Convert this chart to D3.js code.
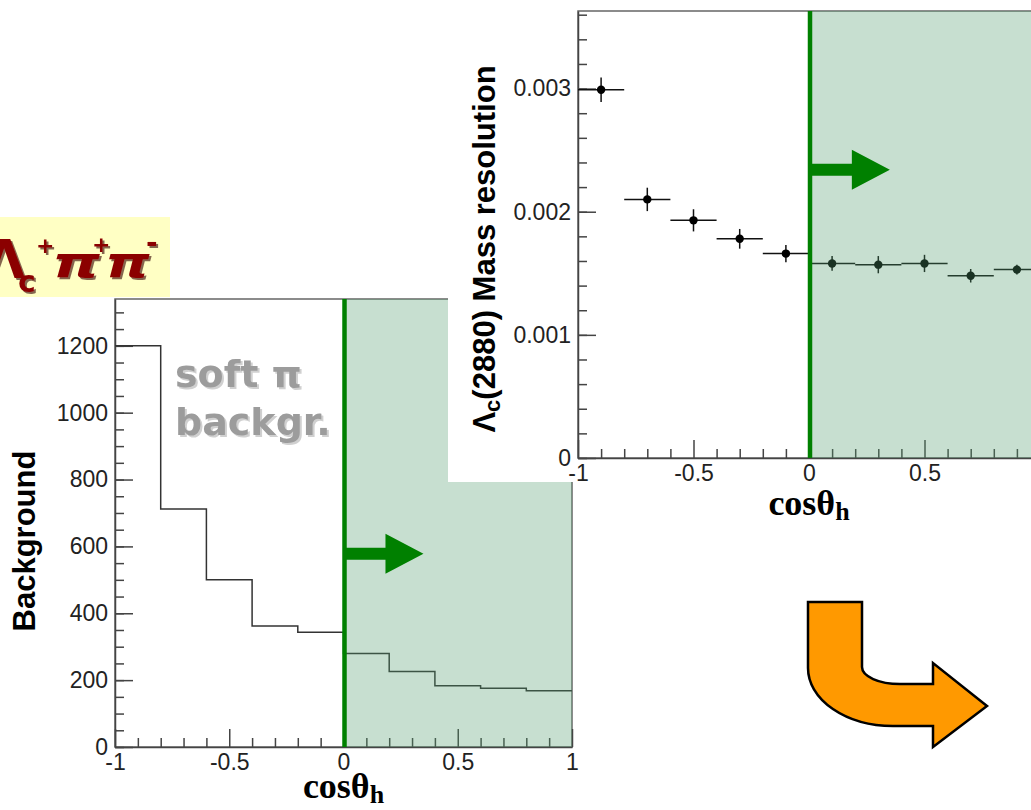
<!DOCTYPE html>
<html>
<head>
<meta charset="utf-8">
<script src="https://cdn.jsdelivr.net/npm/d3@7"></script>
<style>
  body { margin: 0; background: #fff; }
  svg { display: block; }
</style>
</head>
<body>
<div id="chart"></div>
<script>
// Background histogram: 10 bins in cos(theta_h)
const binEdges = [-1, -0.8, -0.6, -0.4, -0.2, 0, 0.2, 0.4, 0.6, 0.8, 1];
const bgCounts = [1200, 712, 500, 362, 343, 280, 226, 183, 176, 168];

// Lambda_c(2880) mass resolution per bin (points with errors)
const resCenters = [-0.9, -0.7, -0.5, -0.3, -0.1, 0.1, 0.3, 0.5, 0.7, 0.9];
const resValues = [0.00299, 0.00210, 0.00193, 0.00178, 0.00166, 0.00158, 0.00157, 0.00158, 0.00148, 0.00153];
const resErrors = [0.0001, 0.000095, 0.00009, 0.00008, 0.00007, 0.00006, 0.00007, 0.00007, 0.000055, 0.00004];
const resHalfWidth = 0.1;

// tick values
const xTicks = [-1, -0.5, 0, 0.5, 1];
const xMinor = [-0.9, -0.8, -0.7, -0.6, -0.4, -0.3, -0.2, -0.1, 0.1, 0.2, 0.3, 0.4, 0.6, 0.7, 0.8, 0.9];
const bgTicks = [0, 200, 400, 600, 800, 1000, 1200];
const bgMinor = d3.range(0, 1350, 50);
const resTicks = [0, 0.001, 0.002, 0.003];
const resMinor = d3.range(0, 19).map(i => i * 0.0002);

// selection cut and arrow annotations (data units)
const cutValue = 0;
const arrowLenX = 0.35;
const bgArrowY = 578;
const resArrowY = 0.00234;

const W = 1031, H = 810;
const sansFont = "'Liberation Sans', Arial, Helvetica, sans-serif";
const serifFont = "'Liberation Serif', 'Times New Roman', serif";
const cutGreen = "#008000";
const shade = "rgba(80,155,110,0.32)";

const svg = d3.select("#chart")
    .append("svg")
    .attr("width", W)
    .attr("height", H);

const defs = svg.append("defs");
defs.append("filter").attr("id", "redShadow")
    .append("feDropShadow")
    .attr("dx", 2).attr("dy", 2).attr("stdDeviation", 0.6)
    .attr("flood-color", "#300").attr("flood-opacity", 0.6);
defs.append("filter").attr("id", "greyShadow")
    .append("feDropShadow")
    .attr("dx", 2).attr("dy", 2).attr("stdDeviation", 0.5)
    .attr("flood-color", "#d0d0d0").attr("flood-opacity", 1);

svg.append("rect").attr("width", W).attr("height", H).attr("fill", "#fff");

// draws frame, major + minor ticks (inside), tick labels
function drawFrame(g, x, y, yMajor, yMinorVals) {
    const x0 = x.range()[0], x1 = x.range()[1];
    const y0 = y.range()[0], y1 = y.range()[1];

    g.append("rect")
        .attr("x", x0).attr("y", y1)
        .attr("width", x1 - x0).attr("height", y0 - y1)
        .attr("fill", "none")
        .attr("stroke", "#666")
        .attr("stroke-width", 1.5);

    // minor ticks
    g.append("g")
        .attr("transform", `translate(${x0},0)`)
        .call(d3.axisLeft(y).tickValues(yMinorVals).tickSizeInner(-9).tickSizeOuter(0).tickFormat(""))
        .call(a => a.select(".domain").remove());
    g.append("g")
        .attr("transform", `translate(0,${y0})`)
        .call(d3.axisBottom(x).tickValues(xMinor).tickSizeInner(-9).tickSizeOuter(0).tickFormat(""))
        .call(a => a.select(".domain").remove());

    // major ticks + labels
    g.append("g")
        .attr("transform", `translate(${x0},0)`)
        .call(d3.axisLeft(y).tickValues(yMajor).tickSizeInner(-18).tickSizeOuter(0).tickPadding(7).tickFormat(d => String(d)))
        .call(a => a.select(".domain").attr("stroke", "#444").attr("stroke-width", 1.5));
    g.append("g")
        .attr("transform", `translate(0,${y0})`)
        .call(d3.axisBottom(x).tickValues(xTicks).tickSizeInner(-18).tickSizeOuter(0).tickPadding(7).tickFormat(d => String(d)))
        .call(a => a.select(".domain").attr("stroke", "#444").attr("stroke-width", 1.5));

    g.selectAll(".tick line").attr("stroke", "#444").attr("stroke-width", 1.5);
    g.selectAll(".tick text")
        .style("font-family", sansFont)
        .style("font-size", "23px")
        .attr("fill", "#222");
}

// cut shading, line and arrow
function drawCut(g, x, y, arrowY) {
    const xc = x(cutValue);
    const x1 = x.range()[1];
    const yTop = y.range()[1], yBot = y.range()[0];
    g.append("rect")
        .attr("x", xc).attr("y", yTop)
        .attr("width", x1 - xc).attr("height", yBot - yTop)
        .attr("fill", shade);
    g.append("line")
        .attr("x1", xc + 1).attr("x2", xc + 1)
        .attr("y1", yTop).attr("y2", yBot)
        .attr("stroke", cutGreen)
        .attr("stroke-width", 4.5);

    const ay = y(arrowY);
    const tip = x(cutValue + arrowLenX);
    const head = 38, hw = 20, sw = 6;
    g.append("path")
        .attr("d", `M${xc},${ay - sw} L${tip - head},${ay - sw} L${tip - head},${ay - hw} L${tip},${ay} L${tip - head},${ay + hw} L${tip - head},${ay + sw} L${xc},${ay + sw} Z`)
        .attr("fill", cutGreen);
}

function xTitle(g, x, baseline) {
    const t = g.append("text")
        .attr("x", x(0))
        .attr("y", baseline)
        .attr("text-anchor", "middle")
        .style("font-family", serifFont)
        .style("font-weight", "bold")
        .style("font-size", "36px")
        .attr("fill", "#000");
    t.append("tspan").text("cosθ");
    t.append("tspan").attr("dy", 5).style("font-size", "26px").text("h");
}

// ---------------- left: background histogram ----------------
const xL = d3.scaleLinear().domain([-1, 1]).range([115, 572]);
const yL = d3.scaleLinear().domain([0, 1340]).range([747, 299]);
const left = svg.append("g");

drawFrame(left, xL, yL, bgTicks, bgMinor);

const histPts = bgCounts.map((v, i) => [binEdges[i], v]);
histPts.push([binEdges[binEdges.length - 1], bgCounts[bgCounts.length - 1]]);
left.append("path")
    .datum(histPts)
    .attr("fill", "none")
    .attr("stroke", "#333")
    .attr("stroke-width", 1.5)
    .attr("d", d3.line().x(d => xL(d[0])).y(d => yL(d[1])).curve(d3.curveStepAfter));

// "soft pi backgr." note
const note = left.append("text")
    .attr("filter", "url(#greyShadow)")
    .style("font-family", "'DejaVu Sans', sans-serif")
    .style("font-weight", "bold")
    .style("font-size", "38px")
    .attr("fill", "#9c9c9c");
note.append("tspan").attr("x", 175).attr("y", 387).text("soft π");
note.append("tspan").attr("x", 175).attr("y", 435).text("backgr.");

drawCut(left, xL, yL, bgArrowY);

left.append("text")
    .attr("transform", "translate(35,541) rotate(-90)")
    .attr("text-anchor", "middle")
    .style("font-family", sansFont)
    .style("font-weight", "bold")
    .style("font-size", "31px")
    .attr("fill", "#000")
    .text("Background");

xTitle(left, xL, 798);

// ---------------- decay channel label ----------------
svg.append("rect").attr("x", 0).attr("y", 217).attr("width", 170).attr("height", 80).attr("fill", "#ffffc4");
const lab = svg.append("g").attr("filter", "url(#redShadow)");
const labParts = [
    { s: "Λ", x: 25, y: 278, size: 54, anchor: "end", style: "normal", sx: 1 },
    { s: "c", x: 18, y: 292, size: 30, anchor: "start", style: "normal", sx: 1 },
    { s: "+", x: 36, y: 253, size: 22, anchor: "start", style: "normal", sx: 1 },
    { s: "π", x: 52, y: 277, size: 42, anchor: "start", style: "italic", sx: 1.45 },
    { s: "+", x: 92, y: 252, size: 22, anchor: "start", style: "normal", sx: 1 },
    { s: "π", x: 105, y: 277, size: 42, anchor: "start", style: "italic", sx: 1.35 },
    { s: "-", x: 146, y: 252, size: 28, anchor: "start", style: "normal", sx: 1 }
];
labParts.forEach(p => {
    lab.append("text")
        .attr("transform", `translate(${p.x},${p.y}) scale(${p.sx},1)`)
        .attr("text-anchor", p.anchor)
        .style("font-family", "'DejaVu Sans', sans-serif")
        .style("font-weight", "bold")
        .style("font-style", p.style)
        .style("font-size", p.size + "px")
        .attr("fill", "#8b0000")
        .text(p.s);
});

// ---------------- right: mass resolution ----------------
svg.append("rect").attr("x", 448).attr("y", 0).attr("width", W - 448).attr("height", 482).attr("fill", "#fff");

const xR = d3.scaleLinear().domain([-1, 1]).range([578, 1040]);
const yR = d3.scaleLinear().domain([0, 0.00363]).range([458, 11]);
const right = svg.append("g");

drawFrame(right, xR, yR, resTicks, resMinor);

const pts = right.selectAll(".pt")
    .data(resCenters.map((c, i) => ({ c, v: resValues[i], e: resErrors[i] })))
    .enter()
    .append("g")
    .attr("class", "pt");
pts.append("line")
    .attr("x1", d => xR(d.c - resHalfWidth)).attr("x2", d => xR(d.c + resHalfWidth))
    .attr("y1", d => yR(d.v)).attr("y2", d => yR(d.v))
    .attr("stroke", "#111").attr("stroke-width", 1.5);
pts.append("line")
    .attr("x1", d => xR(d.c)).attr("x2", d => xR(d.c))
    .attr("y1", d => yR(d.v - d.e)).attr("y2", d => yR(d.v + d.e))
    .attr("stroke", "#111").attr("stroke-width", 1.5);
pts.append("circle")
    .attr("cx", d => xR(d.c)).attr("cy", d => yR(d.v))
    .attr("r", 4.2)
    .attr("fill", "#000");

drawCut(right, xR, yR, resArrowY);

const yt = right.append("text")
    .attr("transform", "translate(495,249) rotate(-90)")
    .attr("text-anchor", "middle")
    .style("font-family", sansFont)
    .style("font-weight", "bold")
    .style("font-size", "31px")
    .attr("fill", "#000");
yt.append("tspan").text("Λ");
yt.append("tspan").attr("dy", 5).style("font-size", "22px").text("c");
yt.append("tspan").attr("dy", -5).text("(2880) Mass resolution");

xTitle(right, xR, 515);

// ---------------- orange bent arrow ----------------
svg.append("path")
    .attr("d", "M808,602 L862,602 L862,667 A38,17 0 0 0 900,684 L933,684 L933,663 L987,706 L933,747 L933,726 L893,726 A85,58 0 0 1 808,668 Z")
    .attr("fill", "#ff9900")
    .attr("stroke", "#000")
    .attr("stroke-width", 2.5)
    .attr("stroke-linejoin", "miter");
</script>
</body>
</html>
